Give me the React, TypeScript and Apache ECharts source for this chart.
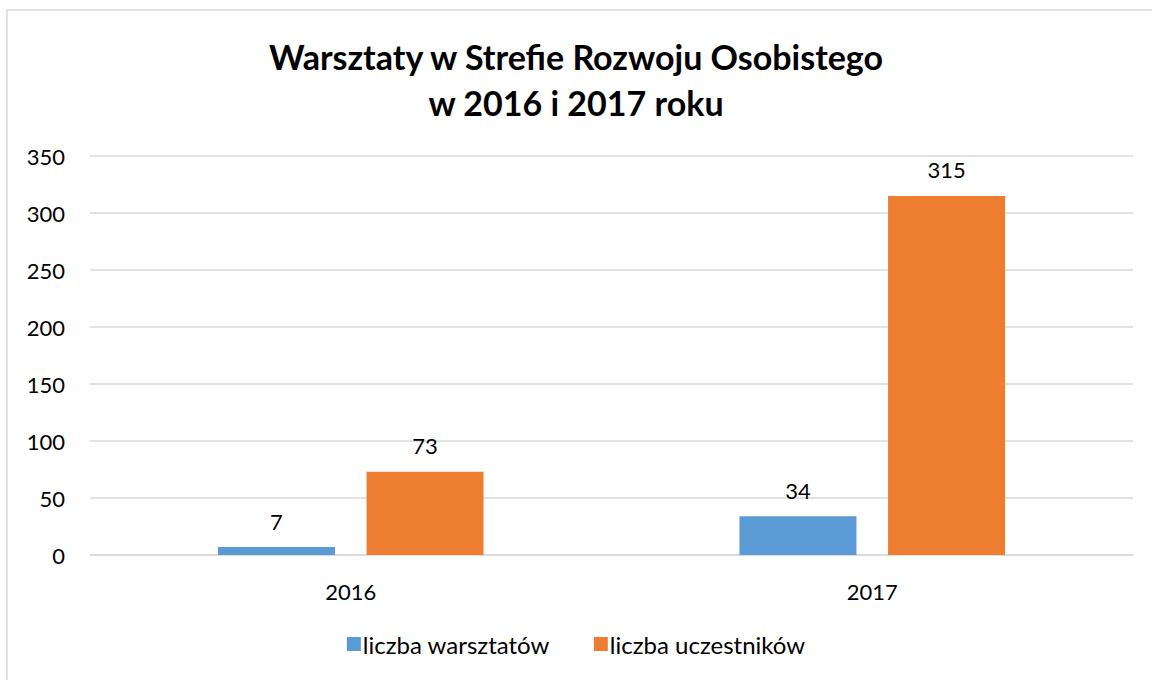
import React, { useEffect, useRef } from "react";
import * as echarts from "echarts";

const categories = ["2016", "2017"];
const workshops = [7, 34];
const participants = [73, 315];
const seriesNames = ["liczba warsztatów", "liczba uczestników"];
const titleText = "Warsztaty w Strefie Rozwoju Osobistego\nw 2016 i 2017 roku";

export default function App() {
  const ref = useRef<HTMLDivElement>(null);
  useEffect(() => {
    const chart = echarts.init(ref.current!, null, { renderer: "svg" });
    const font = "Lato, 'Open Sans', sans-serif";
    const label = { show: true, position: "top", distance: 15, fontFamily: font, fontSize: 22, color: "#000" };
    chart.setOption({
      animation: false,
      backgroundColor: "#ffffff",
      textStyle: { fontFamily: font },
      graphic: [
        {
          type: "rect",
          shape: { x: 7, y: 10, width: 1200, height: 720 },
          style: { fill: "none", stroke: "#d9d9d9", lineWidth: 1.5 },
          silent: true,
        },
      ],
      title: {
        text: titleText,
        left: "center",
        top: 28,
        textStyle: {
          fontFamily: font,
          fontSize: 34,
          fontWeight: "bold",
          color: "#000",
          lineHeight: 46,
        },
      },
      grid: { left: 90, right: 19, top: 156, bottom: 125 },
      legend: {
        bottom: 19,
        left: "center",
        itemWidth: 14,
        itemHeight: 14,
        itemGap: 44,
        icon: "rect",
        textStyle: { fontFamily: font, fontSize: 24, color: "#000", padding: [0, 0, 0, -3] },
        data: seriesNames,
      },
      xAxis: {
        type: "category",
        data: categories,
        axisLine: { lineStyle: { color: "#d9d9d9", width: 1.5 } },
        axisTick: { show: false },
        axisLabel: { fontFamily: font, fontSize: 22, color: "#000", margin: 25 },
      },
      yAxis: {
        type: "value",
        min: 0,
        max: 350,
        interval: 50,
        axisLine: { show: false },
        axisTick: { show: false },
        splitLine: { lineStyle: { color: "#d9d9d9", width: 1.5 } },
        axisLabel: { fontFamily: font, fontSize: 22, color: "#000", margin: 25 },
      },
      series: [
        {
          name: seriesNames[0],
          type: "bar",
          data: workshops,
          barWidth: 117,
          barGap: "27%",
          itemStyle: { color: "#5b9bd5" },
          label,
        },
        {
          name: seriesNames[1],
          type: "bar",
          data: participants,
          barWidth: 117,
          itemStyle: { color: "#ed7d31" },
          label,
        },
      ],
    });
    return () => chart.dispose();
  }, []);
  return (
    <div
      ref={ref}
      style={{ position: "fixed", left: 0, top: 0, width: 1152, height: 680 }}
    />
  );
}
